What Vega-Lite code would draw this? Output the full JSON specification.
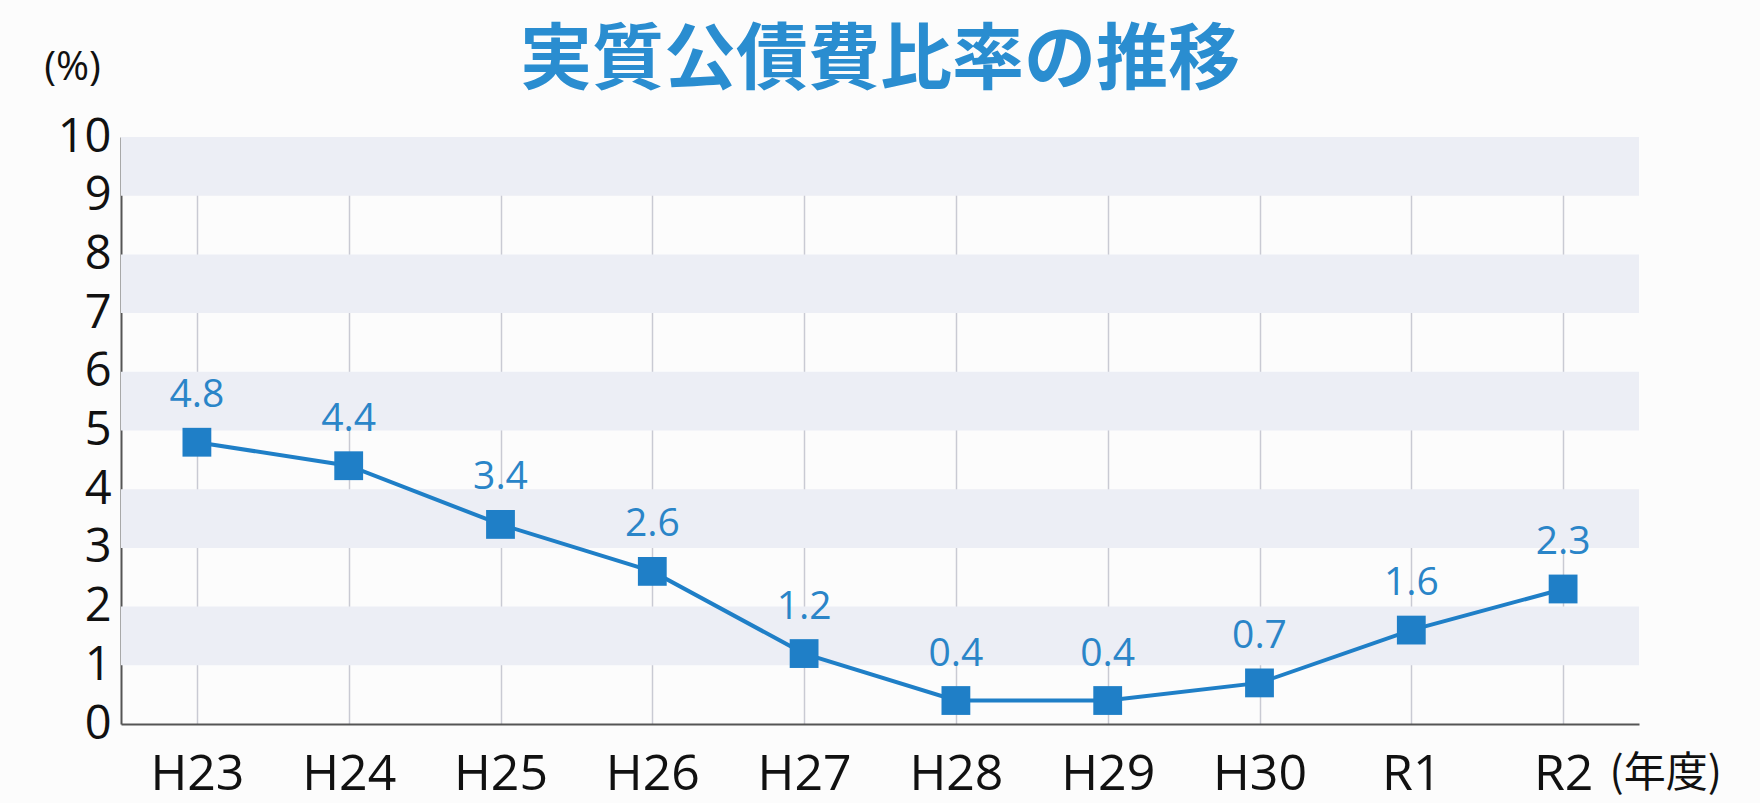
{
  "$schema": "https://vega.github.io/schema/vega-lite/v6.json",
  "width": 1518,
  "height": 587,
  "autosize": {"type": "none"},
  "padding": {"left": 121, "top": 137, "right": 121, "bottom": 79},
  "background": "#fcfcfc",
  "config": {"view": {"stroke": null}},
  "title": {
    "text": "実質公債費比率の推移",
    "font": "Noto Sans CJK JP",
    "fontWeight": "bold",
    "fontSize": 72,
    "color": "#2a8dd0",
    "anchor": "middle",
    "baseline": "bottom",
    "offset": -123
  },
  "datasets": {
    "main": [
      {"year": "H23", "ratio": 4.8},
      {"year": "H24", "ratio": 4.4},
      {"year": "H25", "ratio": 3.4},
      {"year": "H26", "ratio": 2.6},
      {"year": "H27", "ratio": 1.2},
      {"year": "H28", "ratio": 0.4},
      {"year": "H29", "ratio": 0.4},
      {"year": "H30", "ratio": 0.7},
      {"year": "R1", "ratio": 1.6},
      {"year": "R2", "ratio": 2.3}
    ],
    "bands": [
      {"lo": 1, "hi": 2},
      {"lo": 3, "hi": 4},
      {"lo": 5, "hi": 6},
      {"lo": 7, "hi": 8},
      {"lo": 9, "hi": 10}
    ]
  },
  "layer": [
    {
      "data": {"name": "bands"},
      "mark": {"type": "rect", "color": "#eceef5"},
      "encoding": {
        "y": {"field": "lo", "type": "quantitative", "scale": {"domain": [0, 10]}},
        "y2": {"field": "hi"}
      }
    },
    {
      "data": {"name": "main"},
      "mark": {"type": "line", "color": "#1f7fc7", "strokeWidth": 4, "point": {"shape": "square", "size": 830, "filled": true, "color": "#1f7fc7", "opacity": 1}},
      "encoding": {
        "x": {
          "field": "year", "type": "ordinal", "sort": null,
          "scale": {"type": "point", "padding": 0.5},
          "axis": {
            "title": "(年度)",
            "titleFont": "Noto Sans CJK JP",
            "titleFontSize": 42,
            "titleFontWeight": "normal",
            "titleColor": "#111111",
            "titleAlign": "left",
            "titleBaseline": "middle",
            "titleAngle": 0,
            "titleLimit": 400,
            "titleX": 1488,
            "titleY": 49,
            "labelFont": "Open Sans",
            "labelFontSize": 50,
            "labelColor": "#111111",
            "labelAngle": 0,
            "labelPadding": 50,
            "labelBaseline": "middle",
            "ticks": false,
            "domainColor": "#555555",
            "domainWidth": 2,
            "grid": true,
            "gridColor": "#c9cad3",
            "gridWidth": 1.5
          }
        },
        "y": {
          "field": "ratio", "type": "quantitative",
          "scale": {"domain": [0, 10], "nice": false},
          "axis": {
            "values": [0, 1, 2, 3, 4, 5, 6, 7, 8, 9, 10],
            "format": "d",
            "title": "(%)",
            "titleFont": "Open Sans",
            "titleFontSize": 40,
            "titleFontWeight": "normal",
            "titleColor": "#111111",
            "titleAngle": 0,
            "titleAlign": "center",
            "titleBaseline": "middle",
            "titleX": -49,
            "titleY": -70,
            "labelFont": "Open Sans",
            "labelFontSize": 47,
            "labelColor": "#111111",
            "labelPadding": 10,
            "labelOverlap": false,
            "labelFlush": false,
            "labelBound": false,
            "ticks": false,
            "grid": false,
            "domainColor": "#555555",
            "domainWidth": 2
          }
        }
      }
    },
    {
      "data": {"name": "main"},
      "mark": {"type": "text", "font": "Open Sans", "fontSize": 39, "color": "#2a85c8", "dy": -47, "baseline": "middle"},
      "encoding": {
        "x": {"field": "year", "type": "ordinal", "sort": null},
        "y": {"field": "ratio", "type": "quantitative"},
        "text": {"field": "ratio", "type": "quantitative", "format": ".1f"}
      }
    }
  ]
}
